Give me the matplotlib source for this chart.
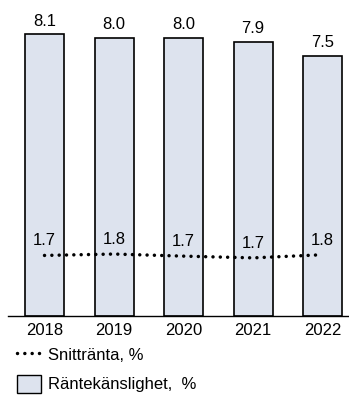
import numpy as np
import matplotlib
matplotlib.use('Agg')
import matplotlib.pyplot as plt
from matplotlib.patches import Patch
from matplotlib.lines import Line2D

# data
years = ['2018', '2019', '2020', '2021', '2022']
sensitivity = [8.1, 8.0, 7.99, 7.88, 7.48]
sensitivity_labels = ['8.1', '8.0', '8.0', '7.9', '7.5']
avg_rate = [1.74, 1.78, 1.72, 1.67, 1.76]
avg_rate_labels = ['1.7', '1.8', '1.7', '1.7', '1.8']

plt.rcParams['font.family'] = ['Liberation Sans', 'DejaVu Sans']
FS = 12

fig = plt.figure(figsize=(3.49, 4.01), dpi=100)
ax = fig.add_axes([0.023, 0.212, 0.977, 0.788])

x = np.arange(len(years))
bar_color = '#dde3ee'
dots = (0, (0.01, 2.1))
ax.bar(x, sensitivity, width=0.56, color=bar_color, edgecolor='black', linewidth=1.2, zorder=2)
ax.plot(x, avg_rate, color='black', linestyle=dots, linewidth=2.5,
        dash_capstyle='round', zorder=3)

for xi, v, lab in zip(x, sensitivity, sensitivity_labels):
    ax.annotate(lab, (xi, v), xytext=(0, 4), textcoords='offset points',
                ha='center', va='bottom', fontsize=FS)
for xi, v, lab in zip(x, avg_rate, avg_rate_labels):
    ax.annotate(lab, (xi, v), xytext=(0, 5), textcoords='offset points',
                ha='center', va='bottom', fontsize=FS)

ax.set_xlim(-0.525, 4.38)
ax.set_ylim(0, 9.08)
ax.set_xticks(x)
ax.set_xticklabels(years, fontsize=FS)
ax.tick_params(axis='x', length=0, pad=5)
ax.set_yticks([])
for s in ['top', 'right', 'left']:
    ax.spines[s].set_visible(False)
ax.spines['bottom'].set_linewidth(1.0)

handles = [Line2D([0], [0], color='black', linestyle=dots, linewidth=2.5,
                  dash_capstyle='round'),
           Patch(facecolor=bar_color, edgecolor='black', linewidth=1.0)]
labels = ['Snittränta, %', 'Räntekänslighet,  %']
fig.legend(handles, labels, loc='upper left', bbox_to_anchor=(0.048, 0.138),
           frameon=False, fontsize=FS, handlelength=1.45, handleheight=1.3,
           handletextpad=0.45, labelspacing=0.65, borderaxespad=0.0, borderpad=0.0)

fig.savefig('out.png', dpi=100)
